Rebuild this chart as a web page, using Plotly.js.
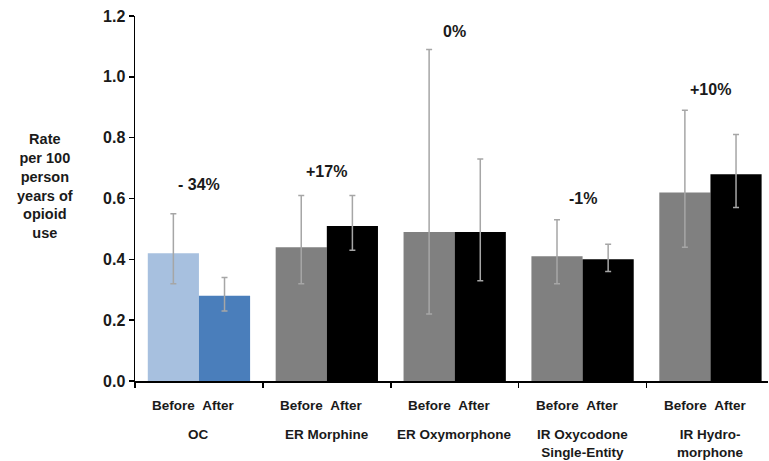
<!DOCTYPE html>
<html>
<head>
<meta charset="utf-8">
<script src="https://cdn.plot.ly/plotly-3.0.1.min.js"></script>
<style>html,body{margin:0;padding:0;background:#fff;}#chart{width:769px;height:461px;}</style>
</head>
<body>
<div id="chart"></div>
<script>
const categories = ["OC", "ER Morphine", "ER Oxymorphone", "IR Oxycodone<br>Single-Entity", "IR Hydro-<br>morphone"];
const phases = ["Before", "After"];
const beforeVals = [0.42, 0.44, 0.49, 0.41, 0.62];
const beforeUpper = [0.55, 0.61, 1.09, 0.53, 0.89];
const beforeLower = [0.32, 0.32, 0.22, 0.32, 0.44];
const afterVals = [0.28, 0.51, 0.49, 0.40, 0.68];
const afterUpper = [0.34, 0.61, 0.73, 0.45, 0.81];
const afterLower = [0.23, 0.43, 0.33, 0.36, 0.57];
const changeLabels = ["- 34%", "+17%", "0%", "-1%", "+10%"];
const changeLabelY = [0.645, 0.69, 1.148, 0.60, 0.96];
const beforeColors = ["#a7c0df", "#808080", "#808080", "#808080", "#808080"];
const afterColors = ["#4a7ebb", "#000000", "#000000", "#000000", "#000000"];
const yTicks = [0, 0.2, 0.4, 0.6, 0.8, 1.0, 1.2];

const xIdx = categories.map((_, i) => i);
const font = "Liberation Sans, Arial, sans-serif";
const txt = "#1a1a1a";
const errStyle = {color: "#a6a6a6", thickness: 1.5, width: 3};

const traces = [
  {
    type: "bar", name: phases[0], x: xIdx, y: beforeVals,
    marker: {color: beforeColors},
    error_y: Object.assign({type: "data", symmetric: false,
      array: beforeVals.map((v, i) => +(beforeUpper[i] - v).toFixed(3)),
      arrayminus: beforeVals.map((v, i) => +(v - beforeLower[i]).toFixed(3))}, errStyle),
    hoverinfo: "y"
  },
  {
    type: "bar", name: phases[1], x: xIdx, y: afterVals,
    marker: {color: afterColors},
    error_y: Object.assign({type: "data", symmetric: false,
      array: afterVals.map((v, i) => +(afterUpper[i] - v).toFixed(3)),
      arrayminus: afterVals.map((v, i) => +(v - afterLower[i]).toFixed(3))}, errStyle),
    hoverinfo: "y"
  }
];

const annotations = [];
categories.forEach((c, i) => {
  annotations.push({x: i, y: changeLabelY[i], xref: "x", yref: "y", text: "<b>" + changeLabels[i] + "</b>",
    showarrow: false, xanchor: "center", font: {family: font, size: 16, color: txt}});
  annotations.push({x: i, y: 0, xref: "x", yref: "paper", yanchor: "top", xanchor: "center", yshift: -15, xshift: -5,
    text: "<b>" + phases.join("&nbsp;&nbsp;") + "</b>", showarrow: false,
    font: {family: font, size: 13.5, color: txt}});
  annotations.push({x: i, y: 0, xref: "x", yref: "paper", yanchor: "top", xanchor: "center", yshift: -44,
    text: "<b>" + c + "</b>", showarrow: false, align: "center",
    font: {family: font, size: 13.5, color: txt}});
});
annotations.push({x: (45 - 135) / 633, xref: "paper", y: (381 - 186) / 365, yref: "paper",
  xanchor: "center", yanchor: "middle", showarrow: false,
  text: "<b>Rate<br>per 100<br>person<br>years of<br>opioid<br>use</b>",
  font: {family: font, size: 14.5, color: txt}, align: "center"});

const layout = {
  width: 769, height: 461,
  margin: {l: 135, r: 1, t: 16, b: 80},
  paper_bgcolor: "#fff", plot_bgcolor: "#fff",
  barmode: "group", bargap: 0.2, bargroupgap: 0,
  showlegend: false,
  xaxis: {range: [-0.5, 4.45], tickvals: [-0.5, 0.5, 1.5, 2.5, 3.5, 4.5], showticklabels: false,
    ticks: "outside", ticklen: 5, tickcolor: "#000", tickwidth: 1.5,
    showline: true, linecolor: "#000", linewidth: 1.5, showgrid: false, zeroline: false, fixedrange: true},
  yaxis: {range: [0, 1.2], tickvals: yTicks, ticktext: yTicks.map(v => "<b>" + v.toFixed(1) + "</b>"),
    ticks: "outside", ticklen: 5, tickcolor: "#000", tickwidth: 1.5,
    showline: true, linecolor: "#000", linewidth: 1.5, showgrid: false, zeroline: false,
    tickfont: {family: font, size: 16, color: txt}, fixedrange: true},
  annotations: annotations
};

Plotly.newPlot("chart", traces, layout, {displayModeBar: false, staticPlot: true});
</script>
</body>
</html>
